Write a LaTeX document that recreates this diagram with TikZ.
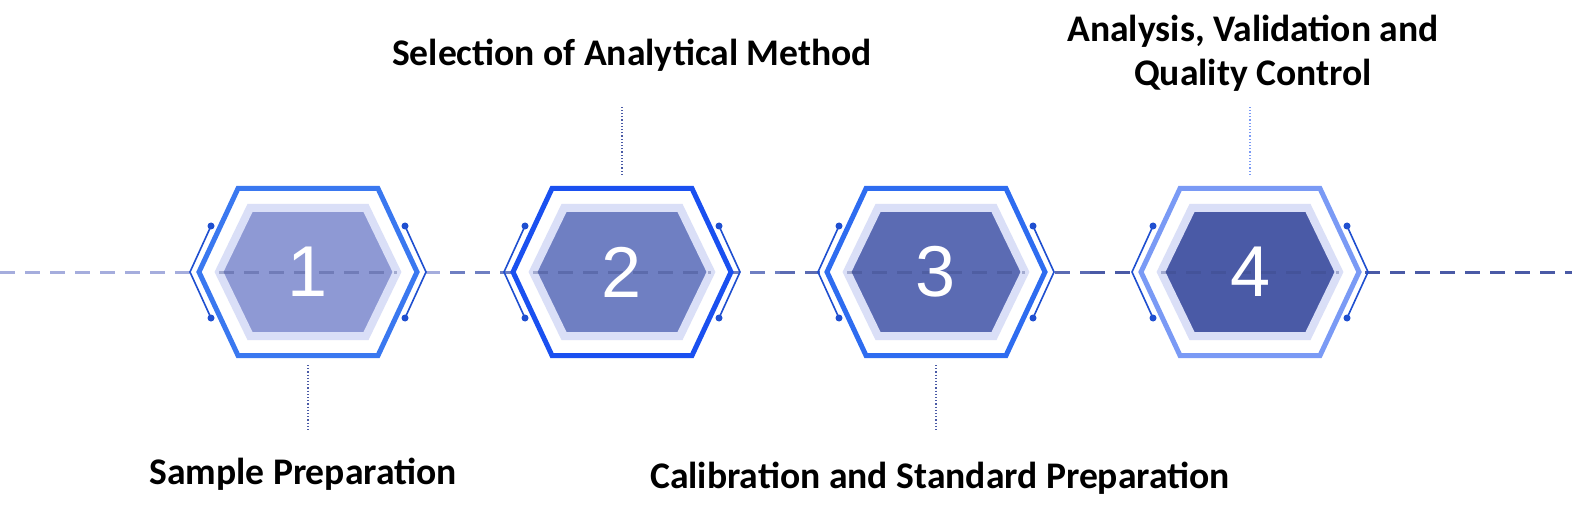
\documentclass[tikz,border=0pt]{standalone}
\usepackage{fontspec}
\setmainfont{Carlito}
\newfontfamily\numfont{Liberation Sans}
\definecolor{fillA}{HTML}{8E99D4}
\definecolor{fillB}{HTML}{6F7FC2}
\definecolor{fillC}{HTML}{5B6BB3}
\definecolor{fillD}{HTML}{4A5AA6}
\definecolor{rimA}{HTML}{3A78F0}
\definecolor{rimB}{HTML}{1A50F0}
\definecolor{rimC}{HTML}{2E6CF0}
\definecolor{rimD}{HTML}{7A9AF5}
\definecolor{glow}{HTML}{DADFF7}
\definecolor{clipblue}{HTML}{1F4FD0}
\tikzset{
  axis/.style={line width=1.5pt, dash pattern=on 7.5pt off 5pt},
  leader/.style={densely dotted, line width=0.6pt, draw=fillD},
  steplabel/.style={font=\bfseries\fontsize{18.8}{22}\selectfont, align=center},
  stepnum/.style={text=white, font=\numfont\fontsize{36}{36}\selectfont}
}
\begin{document}
\begin{tikzpicture}[x=0.5pt,y=-0.5pt]
\useasboundingbox (0,0) rectangle (1572,518);

% axis
\draw[axis, draw=fillA!80] (0,272) -- (450,272);
\draw[axis, draw=fillB] (450,272) -- (780,272);
\draw[axis, draw=fillC] (780,272) -- (1090,272);
\draw[axis, draw=fillD] (1090,272) -- (1572,272);

% hexagons
\foreach \i/\cx/\fc/\rc in {1/308/fillA/rimA, 2/622/fillB/rimB, 3/936/fillC/rimC, 4/1250/fillD/rimD}{
  \coordinate (hex\i) at (\cx,272);
  \draw[line width=2.5pt, draw=\rc, fill=white]
    (\cx-109,272) -- (\cx-70,188.5) -- (\cx+70,188.5) -- (\cx+109,272)
    -- (\cx+70,355.5) -- (\cx-70,355.5) -- cycle;
  \draw[line width=4pt, draw=glow, fill=\fc]
    (\cx-89,272) -- (\cx-58,208) -- (\cx+58,208) -- (\cx+89,272)
    -- (\cx+58,336) -- (\cx-58,336) -- cycle;
  \draw[axis, draw=fillD!80!black, opacity=0.35] (\cx-89,272) -- (\cx+89,272);
  \node[stepnum] (num\i) at (\cx,272) {\i};
  % side clips
  \draw[line width=0.8pt, draw=clipblue] (\cx-97,226) -- (\cx-118,272) -- (\cx-97,318);
  \draw[line width=0.8pt, draw=clipblue] (\cx+97,226) -- (\cx+118,272) -- (\cx+97,318);
  \fill[clipblue] (\cx-97,226) circle (3.5) (\cx-97,318) circle (3.5)
    (\cx+97,226) circle (3.5) (\cx+97,318) circle (3.5);
}

% labels
\node[steplabel] (lab1) at (303,474) {Sample Preparation};
\node[steplabel] (lab2) at (632,55) {Selection of Analytical Method};
\node[steplabel] (lab3) at (940,478) {Calibration and Standard Preparation};
\node[steplabel] (lab4) at (1253,53) {Analysis, Validation and\\Quality Control};

% leaders
\draw[leader] ([yshift=-46.5pt]hex1) -- ([yshift=-80pt]hex1);
\draw[leader] ([yshift=48.5pt]hex2) -- ([yshift=83.5pt]hex2);
\draw[leader] ([yshift=-46.5pt]hex3) -- ([yshift=-80pt]hex3);
\draw[leader, draw=rimD] ([yshift=48.5pt]hex4) -- ([yshift=83.5pt]hex4);
\end{tikzpicture}
\end{document}
